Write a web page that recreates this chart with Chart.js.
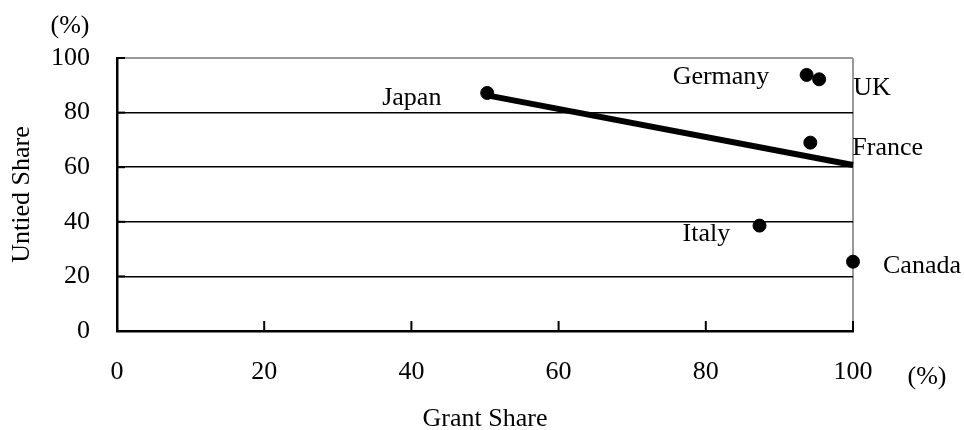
<!DOCTYPE html>
<html>
<head>
<meta charset="utf-8">
<script src="https://cdn.jsdelivr.net/npm/chart.js@4.4.1/dist/chart.umd.min.js"></script>
<style>
  html, body { margin: 0; padding: 0; background: #fff; }
</style>
</head>
<body>
<canvas id="grantChart" width="964" height="430"></canvas>
<script>
// data
var COUNTRIES = ['Japan', 'Germany', 'UK', 'France', 'Italy', 'Canada'];
var GRANT_SHARE = [50.3, 93.7, 95.4, 94.2, 87.3, 100];
var UNTIED_SHARE = [87.2, 93.8, 92.2, 69.0, 38.6, 25.4];
var TREND_X = [50.3, 100];
var TREND_Y = [86.3, 60.8];
var AXIS_TICKS = [0, 20, 40, 60, 80, 100];

var FONT = { family: "'Liberation Serif', 'Times New Roman', serif", size: 26 };

// where each country name sits relative to its dot (px)
var LABEL_OFFSETS = {
  Japan:   [-105, 5],
  Germany: [-134, 2],
  UK:      [34, 9],
  France:  [42, 6],
  Italy:   [-77, 9],
  Canada:  [30, 5]
};

function makePoints(xs, ys)
{
  var pts = [];
  for (var i = 0; i < xs.length; i++) {
    pts.push({ x: xs[i], y: ys[i] });
  }
  return pts;
}

// inward tick marks, country names and the (%) unit labels
var decorPlugin = {
  id: 'decor',
  afterDatasetsDraw: function(chart) {
    var ctx = chart.ctx;
    var xs = chart.scales.x, ys = chart.scales.y;
    var area = chart.chartArea;
    ctx.save();
    ctx.strokeStyle = '#000';
    ctx.lineWidth = 2;
    for (var i = 1; i < AXIS_TICKS.length; i++) {
      var px = xs.getPixelForValue(AXIS_TICKS[i]);
      ctx.beginPath();
      ctx.moveTo(px, area.bottom);
      ctx.lineTo(px, area.bottom - 10);
      ctx.stroke();
      var py = ys.getPixelForValue(AXIS_TICKS[i]);
      ctx.beginPath();
      ctx.moveTo(area.left, py);
      ctx.lineTo(area.left + 8, py);
      ctx.stroke();
    }

    ctx.fillStyle = '#000';
    ctx.font = FONT.size + 'px ' + FONT.family;
    ctx.textBaseline = 'middle';
    ctx.textAlign = 'left';
    var meta = chart.getDatasetMeta(1);
    meta.data.forEach(function(pt, idx) {
      var name = COUNTRIES[idx];
      var off = LABEL_OFFSETS[name];
      ctx.fillText(name, pt.x + off[0], pt.y + off[1]);
    });

    ctx.textAlign = 'center';
    ctx.fillText('(%)', area.left - 47, area.top - 32);
    ctx.fillText('(%)', area.right + 74, area.bottom + 46);
    ctx.restore();
  }
};

var ctx = document.getElementById('grantChart');
var myScatter = new Chart(ctx, {
  type: 'scatter',
  data: {
    datasets: [
      {
        label: 'trend',
        data: makePoints(TREND_X, TREND_Y),
        showLine: true,
        borderColor: '#000',
        borderWidth: 6,
        pointRadius: 0,
        clip: false
      },
      {
        label: 'countries',
        data: makePoints(GRANT_SHARE, UNTIED_SHARE),
        backgroundColor: '#000',
        borderColor: '#000',
        pointRadius: 6.5,
        clip: false
      }
    ]
  },
  options: {
    responsive: false,
    animation: false,
    layout: { padding: { top: 58, right: 111, left: 0, bottom: 0 } },
    plugins: {
      legend: { display: false },
      tooltip: { enabled: false }
    },
    scales: {
      x: {
        type: 'linear',
        min: 0,
        max: 100,
        afterFit: function(scale) { scale.height = 99; },
        ticks: { stepSize: 20, color: '#000', font: FONT, padding: 26, maxRotation: 0 },
        grid: {
          drawTicks: false,
          lineWidth: 2,
          color: function(c) { return c.tick && c.tick.value === 100 ? '#999' : 'rgba(0,0,0,0)'; }
        },
        border: { color: '#000', width: 2.5 },
        title: { display: true, text: 'Grant Share', color: '#000', font: FONT, padding: { top: 0, bottom: -5 } }
      },
      y: {
        type: 'linear',
        min: 0,
        max: 100,
        afterFit: function(scale) { scale.width = 117; },
        ticks: { stepSize: 20, color: '#000', font: FONT, padding: 27 },
        grid: {
          drawTicks: false,
          lineWidth: function(c) { return c.tick && c.tick.value === 100 ? 2 : 1.5; },
          color: function(c) {
            if (!c.tick) return '#000';
            if (c.tick.value === 100) return '#999';
            if (c.tick.value === 0) return 'rgba(0,0,0,0)';
            return '#000';
          }
        },
        border: { color: '#000', width: 2.5 },
        title: { display: true, text: 'Untied Share', color: '#000', font: FONT, padding: { top: 7, bottom: 0 } }
      }
    }
  },
  plugins: [decorPlugin]
});
</script>
</body>
</html>
